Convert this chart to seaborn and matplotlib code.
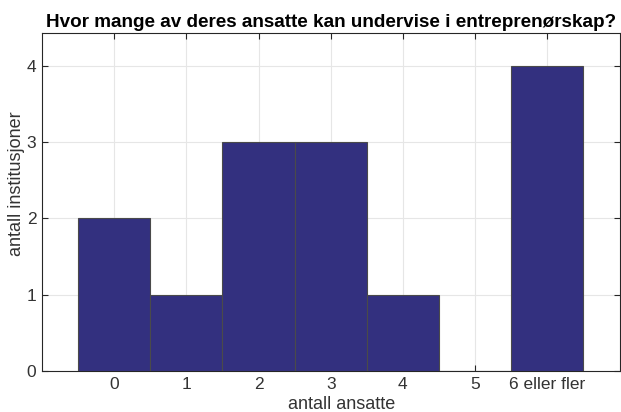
import matplotlib
matplotlib.use("Agg")
import matplotlib.pyplot as plt
import seaborn as sns
import pandas as pd

categories = ["0", "1", "2", "3", "4", "5", "6 eller fler"]
counts = [2, 1, 3, 3, 1, 0, 4]

sns.set_style("white")
plt.rcParams['font.family'] = ['Liberation Sans', 'DejaVu Sans']

df = pd.DataFrame({"kat": categories, "antall": counts})

fig = plt.figure(figsize=(6.21, 4.12), dpi=100)
ax = fig.add_axes([0.0676, 0.0995, 0.930, 0.8205])
sns.barplot(data=df, x="kat", y="antall", order=categories, color="#33307F",
            saturation=1, width=1.0, edgecolor="#4a4a4a", linewidth=0.8, ax=ax, zorder=3)

dark = "#262626"
ax.set_xlim(-1, 7)
ax.set_ylim(0, 4.43)
ax.set_yticks([0, 1, 2, 3, 4])
ax.grid(True, color="#e6e6e6", linewidth=0.8, zorder=0)
ax.set_axisbelow(True)
for s in ax.spines.values():
    s.set_visible(True)
    s.set_color(dark)
    s.set_linewidth(0.8)
ax.tick_params(direction="in", length=4, width=0.8, colors=dark, labelsize=12.5,
               top=True, right=True, bottom=True, left=True, labelcolor="#333333", pad=4)
ax.set_xlabel("antall ansatte", fontsize=13, color="#333333")
ax.set_ylabel("antall institusjoner", fontsize=13, color="#333333")
ax.xaxis.set_label_coords(0.519, -0.075)
ax.yaxis.set_label_coords(-0.029, 0.553)
ax.set_title("Hvor mange av deres ansatte kan undervise i entreprenørskap?",
             fontsize=13.6, fontweight="bold", color="black", pad=4)

fig.savefig("out.png", dpi=100)
